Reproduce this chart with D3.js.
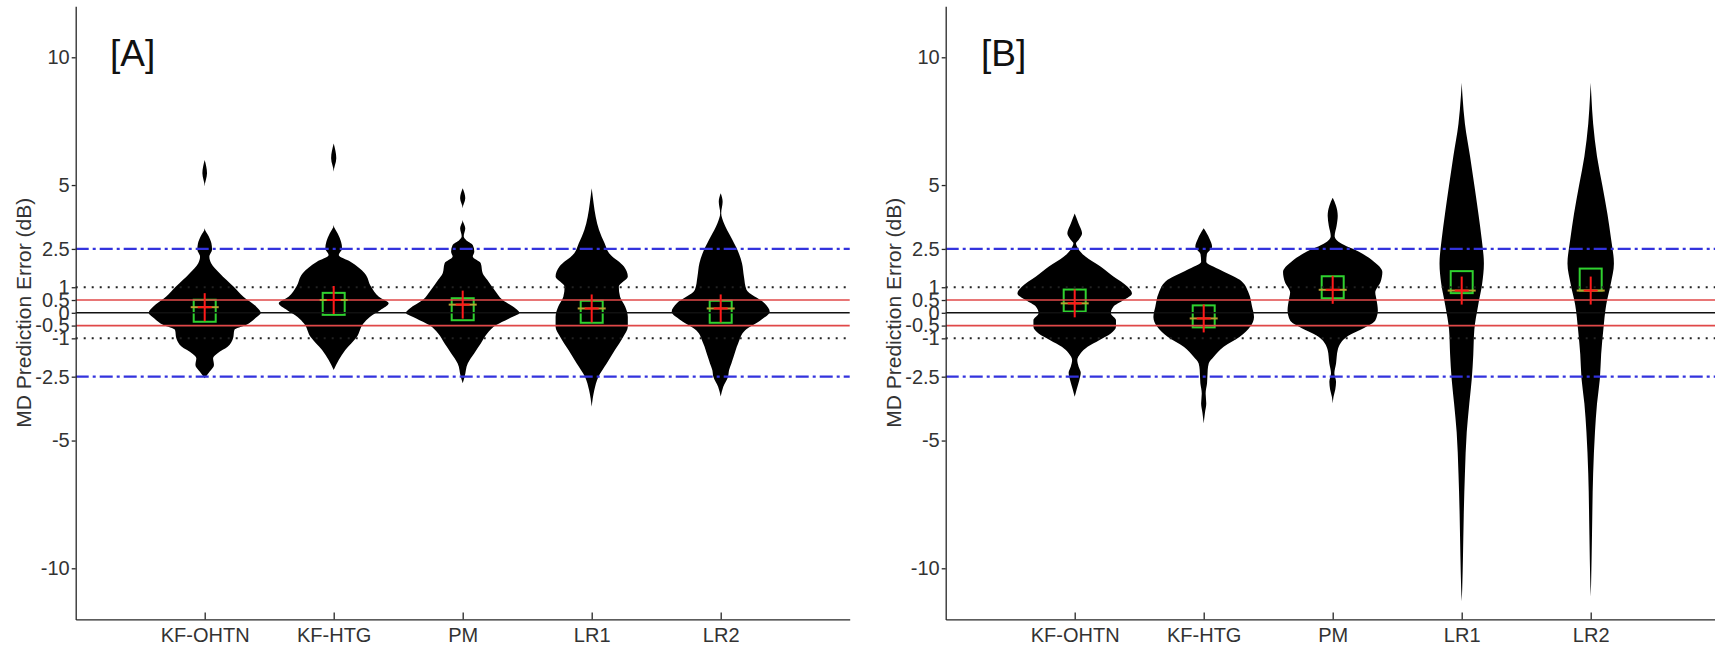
<!DOCTYPE html>
<html>
<head>
<meta charset="utf-8">
<script src="https://cdn.jsdelivr.net/npm/d3@7"></script>
<style>
	body { margin: 0; background: #fff; }
	svg { display: block; }
	.axis path, .axis line { stroke: #262626; stroke-width: 1.3; }
	.axis text { font-family: "Liberation Sans", Arial, sans-serif; font-size: 20px; fill: #333; }
</style>
</head>
<body>
<script>
// categories and y ticks
var categories = ["KF-OHTN", "KF-HTG", "PM", "LR1", "LR2"];
var yTicks = [-10, -5, -2.5, -1, -0.5, 0, 0.5, 1, 2.5, 5, 10];

// reference levels (dB)
var zeroLine = [0];
var toleranceLines = [-0.5, 0.5];
var dottedLines = [-1, 1];
var limitLines = [-2.5, 2.5];

// violin profiles: [error value, half width in category units]
var violinsA = [
	[[5.98,0],[5.46,0.018],[4.94,0],[3.31,0],[3.0,0.031],[2.72,0.052],[2.48,0.057],[2.2,0.036],[1.94,0.05],[1.55,0.116],[1.02,0.225],[0.63,0.30],[0.24,0.40],[0.0,0.434],[-0.22,0.39],[-0.48,0.32],[-0.67,0.23],[-1.0,0.22],[-1.32,0.18],[-1.58,0.10],[-1.78,0.065],[-2.04,0.072],[-2.3,0.039],[-2.56,0]],
	[[6.63,0],[6.05,0.02],[5.52,0],[3.44,0],[3.1,0.031],[2.78,0.057],[2.52,0.065],[2.26,0.039],[2.0,0.13],[1.55,0.24],[1.02,0.29],[0.63,0.35],[0.37,0.426],[0.1,0.36],[-0.16,0.28],[-0.42,0.23],[-0.94,0.18],[-1.46,0.09],[-1.85,0.039],[-2.24,0]],
	[[4.87,0],[4.48,0.02],[4.09,0],[3.63,0],[3.31,0.02],[3.0,0.008],[2.85,0.026],[2.65,0.078],[2.39,0.09],[2.2,0.078],[1.94,0.14],[1.55,0.155],[1.29,0.19],[0.9,0.245],[0.5,0.31],[0.17,0.41],[0,0.44],[-0.22,0.36],[-0.48,0.26],[-0.81,0.19],[-1.2,0.14],[-1.58,0.09],[-1.98,0.039],[-2.5,0.015],[-2.76,0]],
	[[4.87,0],[4.28,0.015],[3.76,0.031],[3.24,0.057],[2.72,0.1],[2.33,0.135],[1.81,0.25],[1.42,0.28],[1.02,0.21],[0.63,0.22],[0.24,0.26],[-0.16,0.28],[-0.55,0.28],[-0.94,0.245],[-1.46,0.18],[-1.98,0.116],[-2.5,0.052],[-3.03,0.02],[-3.68,0]],
	[[4.68,0],[4.35,0.015],[3.9,0.004],[3.5,0.026],[2.98,0.078],[2.46,0.13],[1.94,0.165],[1.42,0.18],[0.9,0.2],[0.37,0.34],[0.04,0.38],[-0.29,0.31],[-0.68,0.19],[-1.2,0.135],[-1.72,0.10],[-1.98,0.083],[-2.24,0.065],[-2.5,0.057],[-2.89,0.02],[-3.28,0]]
];
var violinsB = [
	[[3.89,0],[3.5,0.03],[3.11,0.057],[2.85,0.03],[2.72,0.01],[2.52,0.026],[2.2,0.083],[1.81,0.2],[1.42,0.30],[1.02,0.41],[0.76,0.444],[0.5,0.38],[0.24,0.30],[-0.02,0.28],[-0.29,0.32],[-0.55,0.32],[-0.81,0.28],[-1.07,0.19],[-1.33,0.10],[-1.59,0.045],[-1.85,0.02],[-2.1,0.03],[-2.35,0.047],[-2.63,0.036],[-3.0,0.015],[-3.29,0]],
	[[3.31,0],[2.9,0.045],[2.59,0.065],[2.3,0.025],[2.0,0.02],[1.68,0.13],[1.29,0.28],[0.76,0.35],[0.24,0.375],[-0.16,0.39],[-0.55,0.36],[-0.94,0.28],[-1.33,0.155],[-1.72,0.078],[-1.98,0.039],[-2.24,0.031],[-2.76,0.026],[-3.16,0.015],[-3.55,0.02],[-3.9,0.01],[-4.33,0]],
	[[4.5,0],[4.2,0.025],[3.8,0.039],[3.4,0.03],[3.0,0.015],[2.73,0.06],[2.4,0.2],[2.0,0.32],[1.6,0.385],[1.2,0.37],[0.8,0.33],[0.5,0.34],[0.1,0.35],[-0.3,0.33],[-0.55,0.26],[-0.94,0.11],[-1.46,0.039],[-1.98,0.026],[-2.37,0.013],[-2.7,0.026],[-3.0,0.02],[-3.3,0.006],[-3.55,0]],
	[[9.0,0],[8.5,0.006],[7.4,0.025],[6.12,0.065],[4.99,0.098],[3.86,0.13],[2.89,0.155],[1.93,0.172],[1.12,0.158],[0.31,0.128],[-0.65,0.098],[-1.62,0.09],[-2.59,0.078],[-3.55,0.059],[-4.68,0.039],[-6.29,0.025],[-7.9,0.016],[-9.52,0.01],[-10.8,0.004],[-11.3,0]],
	[[9.0,0],[8.5,0.005],[7.4,0.019],[6.12,0.049],[4.99,0.09],[3.86,0.13],[2.89,0.158],[1.93,0.18],[1.12,0.155],[0.31,0.12],[-0.65,0.098],[-1.62,0.081],[-2.59,0.071],[-3.55,0.049],[-4.68,0.033],[-6.29,0.019],[-8.71,0.01],[-10.6,0.003],[-11.1,0]]
];

// medians (green squares) and means (red crosses)
var mediansA = [0.08, 0.35, 0.14, 0.04, 0.04];
var meansA = [0.22, 0.5, 0.32, 0.17, 0.17];
var mediansB = [0.48, -0.14, 1.0, 1.2, 1.3];
var meansB = [0.37, -0.22, 0.9, 0.87, 0.87];

var width = 1715, height = 647;

var svg = d3.select("body").append("svg")
	.attr("width", width)
	.attr("height", height);

// shared y scale
var y = d3.scaleLinear().domain([-12, 12]).range([619.4, 6.2]);

var panels = [
	{label: "[A]", left: 75.7, right: 849.7, labelX: 110, violins: violinsA, medians: mediansA, means: meansA},
	{label: "[B]", left: 945.7, right: 1719.7, labelX: 981, violins: violinsB, medians: mediansB, means: meansB}
];

panels.forEach(function (p) {
	var x = d3.scaleLinear().domain([0, 6]).range([p.left, p.right]);
	// half width in category units -> pixels
	var w = function (v) { return x(v) - x(0); };

	var g = svg.append("g");

	// violins
	p.violins.forEach(function (profile, i) {
		var cx = x(i + 1);
		var area = d3.area()
			.curve(d3.curveMonotoneY)
			.y(function (d) { return y(d[0]); })
			.x0(function (d) { return cx - w(d[1]); })
			.x1(function (d) { return cx + w(d[1]); });
		g.append("path")
			.datum(profile)
			.attr("d", area)
			.attr("fill", "#000");
	});

	// median squares
	g.selectAll("rect.median")
		.data(p.medians)
		.enter().append("rect")
		.attr("class", "median")
		.attr("x", function (d, i) { return x(i + 1) - 11; })
		.attr("y", function (d) { return y(d) - 11; })
		.attr("width", 22)
		.attr("height", 22)
		.attr("fill", "none")
		.attr("stroke", "#2fd12f")
		.attr("stroke-width", 2);

	// reference lines
	var refLine = function (data, color, dash, sw) {
		g.selectAll(null)
			.data(data)
			.enter().append("line")
			.attr("x1", p.left)
			.attr("x2", p.right)
			.attr("y1", function (d) { return y(d); })
			.attr("y2", function (d) { return y(d); })
			.attr("stroke", color)
			.attr("stroke-width", sw)
			.attr("stroke-dasharray", dash);
	};
	refLine(dottedLines, "#222", "2,6", 2);
	refLine(limitLines, "#3333dd", "13,4,3,4", 2.2);
	refLine(zeroLine, "#111", null, 1.6);
	refLine(toleranceLines, "#e04848", null, 1.6);

	// mean crosses
	var cross = g.selectAll("g.mean")
		.data(p.means)
		.enter().append("g")
		.attr("class", "mean")
		.attr("transform", function (d, i) { return "translate(" + x(i + 1) + "," + y(d) + ")"; });
	cross.append("line")
		.attr("x1", -14).attr("x2", 14).attr("y1", 0).attr("y2", 0)
		.attr("stroke", "#b8a030").attr("stroke-width", 2);
	cross.append("line")
		.attr("x1", -7).attr("x2", 7).attr("y1", 0).attr("y2", 0)
		.attr("stroke", "#ff1a1a").attr("stroke-width", 2);
	cross.append("line")
		.attr("x1", 0).attr("x2", 0).attr("y1", -14).attr("y2", 14)
		.attr("stroke", "#ff1a1a").attr("stroke-width", 2);

	// axes
	g.append("g")
		.attr("class", "axis")
		.attr("transform", "translate(" + p.left + ",0)")
		.call(d3.axisLeft(y).tickValues(yTicks).tickSize(4).tickSizeOuter(0).tickPadding(2)
			.tickFormat(function (d) { return String(d); }));

	g.append("g")
		.attr("class", "axis")
		.attr("transform", "translate(0," + y(-12) + ")")
		.call(d3.axisBottom(x).tickValues([1, 2, 3, 4, 5]).tickSize(-7).tickSizeOuter(0).tickPadding(8)
			.tickFormat(function (d) { return categories[d - 1]; }));

	// y label
	g.append("text")
		.attr("transform", "translate(" + (p.left - 52) + "," + ((y.range()[0] + y.range()[1]) / 2) + ") rotate(-90)")
		.attr("text-anchor", "middle")
		.attr("dy", "0.36em")
		.attr("font-family", "Liberation Sans, Arial, sans-serif")
		.attr("font-size", "21px")
		.attr("fill", "#333")
		.text("MD Prediction Error (dB)");

	// panel letter
	g.append("text")
		.attr("x", p.labelX)
		.attr("y", 66)
		.attr("font-family", "Liberation Sans, Arial, sans-serif")
		.attr("font-size", "37px")
		.attr("fill", "#111")
		.text(p.label);
});
</script>
</body>
</html>
